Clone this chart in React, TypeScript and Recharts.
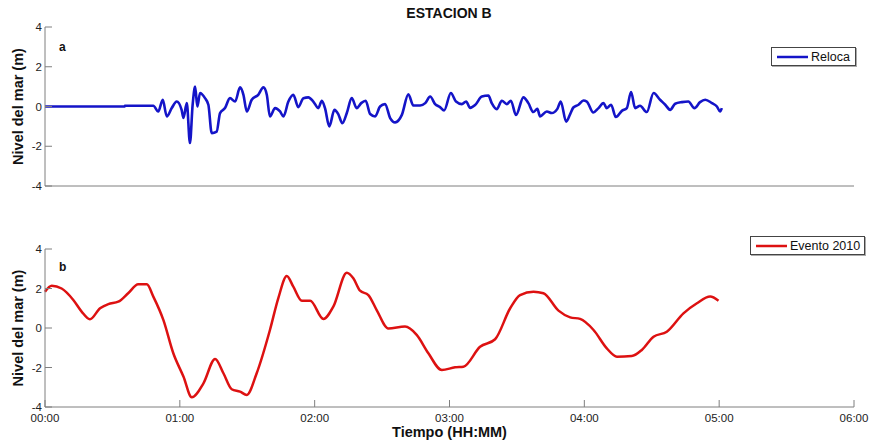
import { LineChart, Line, XAxis, YAxis, Legend } from "recharts";

// time in minutes from 00:00, sea level in metres
const relocaMin = [
  0, 35.5, 35.6, 48.2, 50.4, 52.4, 54.2, 56.4, 58.6, 60.8, 61.6, 63.1, 64.5, 65.7,
  66.8, 67.8, 69.0, 71.2, 72.7, 74.2, 76.4, 77.9, 80.1, 82.3, 84.6, 86.8, 88.3,
  89.8, 92.0, 94.9, 97.2, 98.7, 100.1, 102.4, 104.6, 106.1, 108.3, 110.5, 112.7,
  115.0, 117.2, 119.4, 121.6, 123.2, 124.6, 126.5, 128.8, 130.5, 132.3, 134.3,
  136.5, 138.7, 140.7, 142.7, 144.7, 146.9, 149.1, 151.3, 153.6, 155.8, 158.8,
  161.7, 163.9, 166.9, 169.2, 171.4, 173.6, 175.8, 177.6, 180.6, 182.9, 185.5,
  187.4, 189.2, 191.4, 194.4, 197.3, 198.8, 201.0, 203.3, 205.5, 207.3, 209.6,
  212.9, 215.1, 217.3, 219.1, 220.3, 223.3, 225.5, 228.0, 229.5, 231.9, 233.7,
  235.1, 237.4, 239.6, 241.1, 244.0, 246.3, 248.5, 250.0, 251.9, 254.0, 256.7,
  258.9, 260.8, 262.6, 264.8, 267.8, 270.8, 273.7, 276.0, 278.2, 280.4, 283.4,
  286.3, 289.0, 291.5, 293.8, 296.8, 299.0, 300.4, 301.2,
];
const relocaLevel = [
  0, 0, 0.04, 0.04, -0.25, 0.34, -0.5, -0.08, 0.25, -0.17, -0.58, 0.17, -1.84, 0.09,
  1.0, 0, 0.68, 0.42, 0.09, -1.34, -1.26, -0.33, -0.08, 0.42, 0.25, 0.96, 0.59,
  -0.25, 0.34, 0.59, 0.96, 0.59, -0.5, -0.08, -0.25, -0.5, 0.25, 0.59, -0.03,
  0.42, 0.46, 0.25, -0.08, 0.29, -0.08, -1.0, -0.17, -0.38, -0.84, -0.33,
  0.42, -0.08, 0.17, 0.29, -0.38, -0.5, 0, 0.12, -0.58, -0.8, -0.42,
  0.62, 0.05, 0.05, 0.17, 0.5, 0.12, -0.03, -0.2, 0.68, 0.25, 0.12,
  0.25, -0.07, 0.07, 0.5, 0.55, 0.17, -0.13, 0.29, 0.12, 0.29, -0.43,
  0.46, 0.17, -0.28, -0.12, -0.5, -0.25, -0.33, -0.12, 0.25, -0.76, -0.38,
  -0.05, 0.09, 0.3, 0.25, -0.3, -0.08, 0.17, -0.08, 0.09, -0.53, -0.22,
  -0.08, 0.73, -0.08, 0.04, -0.28, 0.68, 0.34, 0.09, -0.17, 0.14, 0.22,
  0.25, -0.08, 0.22, 0.34, 0.17, 0, -0.25, -0.08,
];

const eventoMin = [
  0, 3.0, 7.4, 12.6, 16.3, 20, 24.5, 28.2, 32.6, 37, 41.5, 45.3, 48.2, 52.7, 57.1,
  61.6, 65.3, 70.5, 75.7, 79.4, 83.1, 86.8, 89.8, 94.2, 100.1, 103.8, 107.6, 110.5,
  114.3, 118, 123.9, 128.3, 134.3, 137.2, 140.2, 143.9, 147.6, 152.8, 160.2, 165.4,
  170.6, 176.6, 182.5, 186.2, 193.6, 200.3, 207, 211.4, 217.4, 221.8, 228.5, 233.7,
  238.1, 244.1, 250, 254.5, 261.1, 265.6, 270.8, 276.7, 284.1, 290.1, 296, 299.7,
];
const eventoLevel = [
  1.84, 2.14, 2.0, 1.42, 0.83, 0.44, 1.0, 1.21, 1.33, 1.76, 2.21, 2.21, 1.59, 0.4,
  -1.28, -2.46, -3.51, -2.8, -1.57, -2.29, -3.1, -3.22, -3.39, -2.29, -0.1, 1.5,
  2.63, 2.09, 1.38, 1.38, 0.46, 1.08, 2.8, 2.52, 1.89, 1.67, 0.91, -0.02, 0.07,
  -0.35, -1.28, -2.13, -1.99, -1.96, -0.95, -0.57, 1.0, 1.67, 1.84, 1.76, 0.88,
  0.54, 0.46, -0.1, -1.03, -1.45, -1.42, -1.11, -0.44, -0.19, 0.74, 1.25, 1.59, 1.38,
];

const timeTicks = [0, 60, 120, 180, 240, 300, 360];
const levelTicks = [-4, -2, 0, 2, 4];

const relocaData = relocaMin.map((t, i) => ({ t, v: relocaLevel[i] }));
const eventoData = eventoMin.map((t, i) => ({ t, v: eventoLevel[i] }));

const FONT = "Arial, 'Liberation Sans', sans-serif";
const AXIS = "#7f7f7f";

const hhmm = (m: number) =>
  `${String(Math.floor(m / 60)).padStart(2, "0")}:${String(m % 60).padStart(2, "0")}`;

const XTick = ({ x, y, payload }: any) => (
  <g>
    <line x1={x} x2={x} y1={y - 7} y2={y - 14} stroke={AXIS} />
    <text x={x} y={y} dy="0.71em" textAnchor="middle" fontSize={11.5} fontFamily={FONT} fill="#222">
      {hhmm(payload.value)}
    </text>
  </g>
);

const YTick = ({ x, y, payload }: any) => (
  <g>
    <line x1={x + 3} x2={x + 10} y1={y} y2={y} stroke={AXIS} />
    <text x={x} y={y} dy="0.355em" textAnchor="end" fontSize={11.5} fontFamily={FONT} fill="#222">
      {payload.value}
    </text>
  </g>
);

const YLabel = ({ viewBox }: any) => {
  const cy = viewBox.y + viewBox.height / 2;
  return (
    <text
      x={18}
      y={cy}
      transform={`rotate(-90 18 ${cy})`}
      textAnchor="middle"
      dominantBaseline="central"
      fontSize={14.5}
      fontWeight="bold"
      fontFamily={FONT}
      fill="#111"
    >
      Nivel del mar (m)
    </text>
  );
};

const XLabel = ({ viewBox }: any) => (
  <text
    x={viewBox.x + viewBox.width / 2}
    y={431.7 - 220}
    textAnchor="middle"
    dominantBaseline="central"
    fontSize={14.5}
    fontWeight="bold"
    fontFamily={FONT}
    fill="#111"
  >
    Tiempo (HH:MM)
  </text>
);

const legendBox = (label: string, color: string, width: number) => () => (
  <div
    style={{
      boxSizing: "border-box",
      width,
      height: 19,
      border: "1px solid #444",
      boxShadow: "1px 1px 0 #aaa",
      background: "#fff",
      display: "flex",
      alignItems: "center",
      paddingLeft: 5,
      fontFamily: FONT,
      fontSize: 12.5,
      color: "#111",
    }}
  >
    <svg width={31} height={4}>
      <line x1={0} x2={31} y1={2} y2={2} stroke={color} strokeWidth={2.5} />
    </svg>
    <span style={{ marginLeft: 3 }}>{label}</span>
  </div>
);

const panelLetter = (s: string, left: number, top: number) => (
  <div
    style={{
      position: "absolute",
      left,
      top,
      fontFamily: FONT,
      fontSize: 12,
      fontWeight: "bold",
      lineHeight: "14px",
      color: "#111",
    }}
  >
    {s}
  </div>
);

export default function App() {
  return (
    <div style={{ position: "absolute", left: 0, top: 0, width: 873, height: 444, background: "#fff" }}>
      <div
        style={{
          position: "absolute",
          left: 349,
          width: 200,
          top: 5,
          textAlign: "center",
          fontFamily: FONT,
          fontSize: 14,
          fontWeight: "bold",
          lineHeight: "17px",
          color: "#111",
        }}
      >
        ESTACION B
      </div>

      <div style={{ position: "absolute", left: 0, top: 0 }}>
        <LineChart width={873} height={200} data={relocaData} margin={{ top: 27, right: 19, bottom: 0, left: 0 }}>
          <XAxis
            dataKey="t"
            type="number"
            domain={[0, 360]}
            ticks={timeTicks}
            tick={false}
            tickLine={false}
            axisLine={{ stroke: AXIS }}
            height={14}
          />
          <YAxis
            type="number"
            domain={[-4, 4]}
            ticks={levelTicks}
            width={45}
            tickSize={0}
            tickMargin={3}
            tick={YTick}
            axisLine={{ stroke: AXIS }}
            label={<YLabel />}
          />
          <Legend
            layout="vertical"
            align="center"
            verticalAlign="middle"
            wrapperStyle={{ left: 771, top: 47, width: 85, height: 19 }}
            content={legendBox("Reloca", "#1414c8", 85)}
          />
          <Line
            dataKey="v"
            type="monotone"
            stroke="#1414c8"
            strokeWidth={2.6}
            dot={false}
            isAnimationActive={false}
            name="Reloca"
          />
        </LineChart>
      </div>

      <div style={{ position: "absolute", left: 0, top: 220 }}>
        <LineChart width={873} height={224} data={eventoData} margin={{ top: 29, right: 19, bottom: 0, left: 0 }}>
          <XAxis
            dataKey="t"
            type="number"
            domain={[0, 360]}
            ticks={timeTicks}
            tickSize={0}
            tickMargin={7}
            tick={XTick}
            axisLine={{ stroke: AXIS }}
            height={37}
            label={<XLabel />}
          />
          <YAxis
            type="number"
            domain={[-4, 4]}
            ticks={levelTicks}
            width={45}
            tickSize={0}
            tickMargin={3}
            tick={YTick}
            axisLine={{ stroke: AXIS }}
            label={<YLabel />}
          />
          <Legend
            layout="vertical"
            align="center"
            verticalAlign="middle"
            wrapperStyle={{ left: 750, top: 16, width: 115, height: 19 }}
            content={legendBox("Evento 2010", "#dd1111", 115)}
          />
          <Line
            dataKey="v"
            type="monotone"
            stroke="#dd1111"
            strokeWidth={2.5}
            dot={false}
            isAnimationActive={false}
            name="Evento 2010"
          />
        </LineChart>
      </div>

      {panelLetter("a", 59, 40)}
      {panelLetter("b", 59, 260)}
    </div>
  );
}
